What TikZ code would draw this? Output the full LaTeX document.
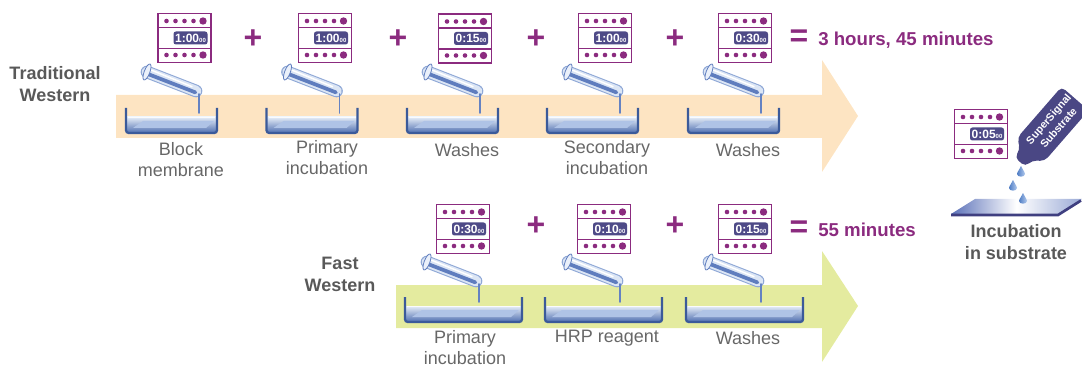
\documentclass[tikz,border=0pt]{standalone}
\usepackage{fontspec}
\setmainfont{Liberation Sans}
\usetikzlibrary{calc}

% palette
\definecolor{peach}{HTML}{FDE4C2}
\definecolor{lime}{HTML}{E4EB9F}
\definecolor{tpurple}{HTML}{8B2B7F}
\definecolor{disp}{HTML}{4E4A87}
\definecolor{labelgray}{HTML}{676767}
\definecolor{headgray}{HTML}{595959}
\definecolor{trayedge}{HTML}{3B5A9A}
\definecolor{liqtop}{HTML}{E6EEF8}
\definecolor{liqbot}{HTML}{5876B4}
\definecolor{membrane}{HTML}{AFC3E6}
\definecolor{tubeedge}{HTML}{8FA8D6}
\definecolor{tubelight}{HTML}{DCE6F5}
\definecolor{tubedark}{HTML}{5F7DBE}
\definecolor{rimfill}{HTML}{EAF0FA}
\definecolor{dripc}{HTML}{6482C2}
\definecolor{bottlec}{HTML}{4A4784}
\definecolor{dropdark}{HTML}{4F7CC4}
\definecolor{droplight}{HTML}{B3CBEE}
\definecolor{slideL}{HTML}{5A70B8}
\definecolor{slideR}{HTML}{9AAAD6}
\definecolor{slideedge}{HTML}{3F3F80}

% blotting tray: left x, right x, top y, bottom y
\newcommand\blot[4]{%
  \shade[top color=liqtop, bottom color=liqbot] ({#1+1},{#3+9}) rectangle ({#2-1},{#4-1});
  \fill[membrane] ({#1+7},{#4-5}) -- ({#1+17},{#3+13}) -- ({#2-3},{#3+13}) -- ({#2-11},{#4-5}) -- cycle;
  \draw[white, line width=0.8pt, opacity=0.8] ({#1+2},{#3+9.5}) -- ({#2-2},{#3+9.5});
  \draw[trayedge, line width=1.7pt, rounded corners=2pt] (#1,#3) -- (#1,#4) -- (#2,#4) -- (#2,#3);
}

% tilted pipette with a drip: drip x, drip top y, drip bottom y
\newcommand\pipette[3]{%
  \draw[tubeedge, line width=9.5pt, line cap=round] ({#1-52},{#2-22}) -- ({#1-3},{#2-3});
  \draw[tubelight, line width=7.9pt, line cap=round] ({#1-52},{#2-22}) -- ({#1-3},{#2-3});
  \draw[tubedark, line width=2.8pt, line cap=round] ({#1-52.6},{#2-20.6}) -- ({#1-3.6},{#2-1.6});
  \draw[white, line width=1.1pt, line cap=round] ({#1-49},{#2-24.4}) -- ({#1-7},{#2-7.4});
  \filldraw[fill=rimfill, draw=tubedark, line width=0.6pt, rotate around={-21:({#1-52},{#2-22})}]
    ({#1-52},{#2-22}) ellipse [x radius=2.8, y radius=8.5];
  \draw[dripc, line width=1.3pt, line cap=round] (#1,#2) -- (#1,#3);
}

% falling drop of substrate
\newcommand\drop[2]{%
  \shade[left color=dropdark, right color=droplight]
    (#1,{#2-6}) .. controls ({#1+1},{#2-3}) and ({#1+4},{#2}) .. ({#1+4},{#2+2})
    .. controls ({#1+4},{#2+5.5}) and ({#1-4},{#2+5.5}) .. ({#1-4},{#2+2})
    .. controls ({#1-4},{#2}) and ({#1-1},{#2-3}) .. (#1,{#2-6}) -- cycle;
}

\tikzset{
  display/.style={fill=disp, text=white, rounded corners=1.8pt, inner sep=0.5pt,
    minimum width=25.5pt, minimum height=9.75pt, font=\bfseries\fontsize{9}{9}\selectfont},
  pics/timer/.style={code={
    \draw[tpurple, line width=1.4pt, fill=white] (-26.5,-24.5) rectangle (26.5,24.5);
    \draw[tpurple, line width=1.1pt] (-26.5,-10.5) -- (26.5,-10.5) (-26.5,10.5) -- (26.5,10.5);
    \foreach \yy in {-17,17} {
      \foreach \xx in {-18,-9,0,9} \fill[tpurple] (\xx,\yy) circle [radius=2.3];
      \fill[tpurple] (18.5,\yy) circle [radius=3.7];
    }
    \node[display] (-d) at (6,0) {#1{\fontsize{4.5}{5}\selectfont 00}};
  }},
  lbl/.style={text=labelgray, font=\fontsize{13.5}{15.75}\selectfont, align=center, inner sep=0},
  head/.style={text=headgray, font=\bfseries\fontsize{13.5}{16.5}\selectfont, align=center, inner sep=0},
  op/.style={text=tpurple, font=\bfseries\fontsize{24}{24}\selectfont, inner sep=0},
  total/.style={text=tpurple, font=\bfseries\fontsize{14}{14}\selectfont, anchor=west, inner sep=0},
  bottletext/.style={text=white, font=\bfseries\fontsize{8}{10}\selectfont, align=center, inner sep=0},
}

\begin{document}
\begin{tikzpicture}[x=0.75pt, y=-0.75pt]
\useasboundingbox (0,0) rectangle (1082,367);

% process arrows
\fill[peach] (116,95) -- (822,95) -- (822,60) -- (858,116) -- (822,172) -- (822,138) -- (116,138) -- cycle;
\fill[lime] (396,285) -- (822,285) -- (822,251) -- (858,306) -- (822,362) -- (822,328) -- (396,328) -- cycle;

% row headings
\node[head] (trad) at (55,84) {Traditional\\Western};
\node[head] (fast) at (340,274) {Fast\\Western};

% traditional western: trays and pipettes
\foreach \l in {126,266.5,407,547,688} \blot{\l}{\l+91}{108}{133};
\foreach \d in {199,339.5,480,620,761} \pipette{\d}{94}{113};

% fast western: trays and pipettes
\foreach \l in {405,545,686} \blot{\l}{\l+117}{297}{322};
\foreach \d in {479,620,761} \pipette{\d}{284}{302};

% timers, traditional
\pic (t1) at (184.5,38) {timer=1:00};
\pic (t2) at (325,38) {timer=1:00};
\pic (t3) at (465,38.5) {timer=0:15};
\pic (t4) at (605,38) {timer=1:00};
\pic (t5) at (745,38) {timer=0:30};
\node[op] (p1) at (253,39) {+};
\node[op] (p2) at (398,39) {+};
\node[op] (p3) at (536,39) {+};
\node[op] (p4) at (675,39) {+};
\node[op] (e1) at (799,38.5) {=};
\node[total] (sum1) at (818,40) {3 hours, 45 minutes};

% timers, fast
\pic (f1) at (463,229) {timer=0:30};
\pic (f2) at (604,229) {timer=0:10};
\pic (f3) at (745,229) {timer=0:15};
\node[op] (q1) at (536,226) {+};
\node[op] (q2) at (675,226) {+};
\node[op] (e2) at (799,229) {=};
\node[total] (sum2) at (818,230) {55 minutes};

% step labels
\node[lbl] (s1) at (181,159.5) {Block\\membrane};
\node[lbl] (s2) at (327,157.5) {Primary\\incubation};
\node[lbl] (s3) at (467,150) {Washes};
\node[lbl] (s4) at (607,157.5) {Secondary\\incubation};
\node[lbl] (s5) at (748,150) {Washes};
\node[lbl] (r1) at (465,348) {Primary\\incubation};
\node[lbl] (r2) at (607,338.5) {HRP reagent};
\node[lbl] (r3) at (748,338.5) {Washes};

% substrate step
\pic (ts) at (981,134) {timer=0:05};
\shade[left color=slideL, right color=slideR, middle color=white]
  (951,214) -- (975,199) -- (1082,199) -- (1058,214) -- cycle;
\draw[slideedge, line width=2pt] (951,215) -- (1058,215) -- (1081,200.5);
\drop{1021}{172}
\drop{1013}{186}
\drop{1023}{199}
\begin{scope}[shift={(1020,162)}, rotate=49]
  \fill[bottlec, rounded corners=3.5pt] (0,-7) -- (9,-8) -- (17,-18) -- (84,-18) -- (84,18) -- (17,18) -- (9,8) -- (0,7) -- cycle;
  \node[bottletext, rotate=49] (bottle) at (51,0) {SuperSignal\\Substrate};
\end{scope}
\node[head] (inc) at (1016,242.5) {Incubation\\in substrate};

\end{tikzpicture}
\end{document}
